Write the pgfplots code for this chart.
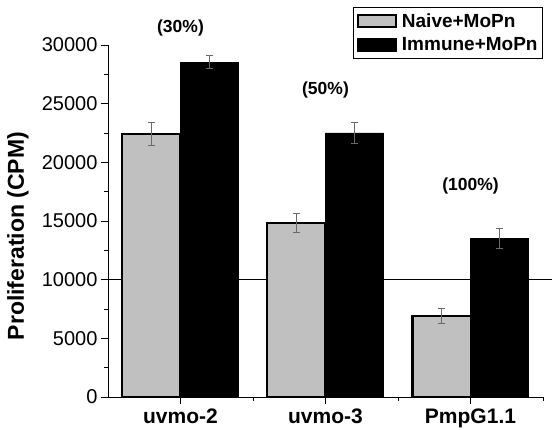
\documentclass[border=0pt]{standalone}
\usepackage{fontspec}
\setmainfont{Liberation Sans}
\usepackage{pgfplots}
\pgfplotsset{compat=1.18}
\usetikzlibrary{calc}
\definecolor{bargray}{RGB}{192,192,192}
\definecolor{errgray}{RGB}{105,105,105}

\pgfplotstableread{
x y e
0.8 22400 1000
1.8 14800 800
2.8 6900 600
}\naive
\pgfplotstableread{
x y e
1.2 28520 560
2.2 22500 880
3.2 13520 850
}\immune

\begin{document}
\begin{tikzpicture}
\begin{axis}[
 scale only axis, width=435pt, height=352pt,
 xmin=0.5, xmax=3.5, ymin=0, ymax=30000,
 axis lines*=left,
 axis line style={line width=0.9pt},
 xtick={1,2,3}, xticklabels={uvmo-2,uvmo-3,PmpG1.1},
 minor xtick={1.5,2.5,3.5},
 ytick={0,5000,...,30000}, minor ytick={2500,7500,...,27500},
 tick align=outside, major tick length=7pt, minor tick length=4pt,
 tick style={line width=0.9pt, black},
 scaled y ticks=false,
 /pgf/number format/assume math mode=true,
 yticklabel style={/pgf/number format/fixed, /pgf/number format/1000 sep={}, font=\fontsize{20}{22}\selectfont},
 xticklabel style={font=\bfseries\fontsize{21}{23}\selectfont, yshift=-1.5pt},
 ylabel={\bfseries Proliferation (CPM)},
 ylabel style={font=\fontsize{23}{25}\selectfont, at={(axis description cs:-0.207,0.457)}, anchor=center},
 clip=false,
 legend style={at={(rel axis cs:1,1)}, anchor=north east, yshift=38pt, draw=black, line width=0.8pt,
   font=\bfseries\fontsize{19}{21}\selectfont, row sep=5pt, column sep=3pt, inner xsep=3pt, inner ysep=4pt, cells={anchor=west}},
]
\draw[line width=1.2pt] (axis cs:0.5,10000) -- (axis cs:3.56,10000);
\addplot[forget plot, ybar, bar width=58pt, bar shift=0pt, fill=black, draw=black, line width=0.6pt,
  error bars/.cd, y dir=both, y explicit,
  error bar style={line width=1pt, errgray},
  error mark options={rotate=90, mark size=3.5pt, line width=1pt, errgray}]
  table[x=x, y=y, y error=e] {\immune};
\addplot[forget plot, ybar, bar width=58pt, bar shift=0pt, fill=bargray, draw=black, line width=2pt,
  error bars/.cd, y dir=both, y explicit,
  error bar style={line width=1pt, errgray},
  error mark options={rotate=90, mark size=3.5pt, line width=1pt, errgray}]
  table[x=x, y=y, y error=e] {\naive};
\addlegendimage{legend image code/.code={\draw[fill=bargray, draw=black, line width=2pt] (0pt,-6pt) rectangle (38pt,6pt);}}
\addlegendentry{Naive+MoPn}
\addlegendimage{legend image code/.code={\draw[fill=black, draw=black, line width=0.6pt] (0pt,-6.5pt) rectangle (39pt,6.5pt);}}
\addlegendentry{Immune+MoPn}
\node[font=\bfseries\fontsize{17.5}{19}\selectfont] at (axis cs:1,31450) {(30\%)};
\node[font=\bfseries\fontsize{17.5}{19}\selectfont] at (axis cs:2,26170) {(50\%)};
\node[font=\bfseries\fontsize{17.5}{19}\selectfont] at (axis cs:3,17980) {(100\%)};
\end{axis}
\pgfresetboundingbox
\path ($(current axis.south west)+(-108pt,-33pt)$) rectangle ($(current axis.north east)+(9pt,45pt)$);
\end{tikzpicture}
\end{document}
